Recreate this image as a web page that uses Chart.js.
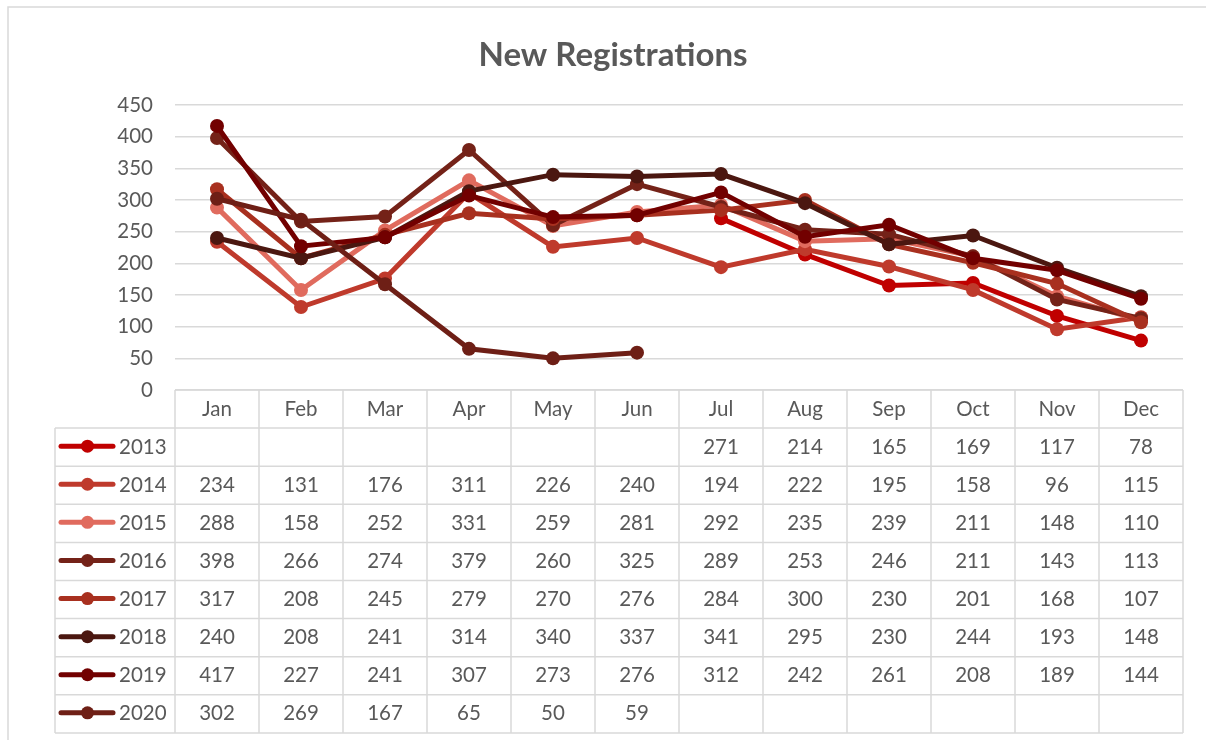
<!DOCTYPE html>
<html>
<head>
<meta charset="utf-8">
<script src="https://cdn.jsdelivr.net/npm/chart.js@4"></script>
<style>
html,body{margin:0;padding:0;background:#fff;}
#wrap{width:1206px;height:740px;position:relative;}
</style>
</head>
<body>
<div id="wrap"><canvas id="c"></canvas></div>
<script>
const months = ["Jan","Feb","Mar","Apr","May","Jun","Jul","Aug","Sep","Oct","Nov","Dec"];
const years = ["2013","2014","2015","2016","2017","2018","2019","2020"];
const s2013 = [null,null,null,null,null,null,271,214,165,169,117,78];
const s2014 = [234,131,176,311,226,240,194,222,195,158,96,115];
const s2015 = [288,158,252,331,259,281,292,235,239,211,148,110];
const s2016 = [398,266,274,379,260,325,289,253,246,211,143,113];
const s2017 = [317,208,245,279,270,276,284,300,230,201,168,107];
const s2018 = [240,208,241,314,340,337,341,295,230,244,193,148];
const s2019 = [417,227,241,307,273,276,312,242,261,208,189,144];
const s2020 = [302,269,167,65,50,59,null,null,null,null,null,null];
const yTicks = [0,50,100,150,200,250,300,350,400,450];
const colors = ["#C00000","#BF3A2C","#E06B5E","#742218","#A8301F","#4B1710","#720000","#6E1F16"];
const series = [s2013,s2014,s2015,s2016,s2017,s2018,s2019,s2020];

const FONT = "Lato, 'Open Sans', sans-serif";
const TXT = "#595959";
const LINE = "#D9D9D9";

const tablePlugin = {
  id: "dataTable",
  afterDraw(chart) {
    const ctx = chart.ctx;
    const xs = chart.scales.x;
    const area = chart.chartArea;
    const left = area.left, right = area.right;
    const colW = (right - left) / months.length;
    const top = area.bottom;
    const rowH = 38.1;
    const labelLeft = 55;
    const nRows = years.length;
    const bottom = top + rowH * (nRows + 1);
    ctx.save();
    ctx.strokeStyle = LINE;
    ctx.lineWidth = 1.5;
    ctx.strokeRect(8, 7, 1230, 760);
    ctx.fillStyle = TXT;
    ctx.font = "bold 33px " + FONT;
    ctx.textAlign = "center";
    ctx.textBaseline = "middle";
    ctx.fillText("New Registrations", 613, 55);

    ctx.strokeStyle = LINE;
    ctx.lineWidth = 1.5;
    ctx.beginPath();
    ctx.moveTo(left, top); ctx.lineTo(right, top);
    for (let r = 1; r <= nRows + 1; r++) {
      const y = top + r * rowH;
      ctx.moveTo(labelLeft, y); ctx.lineTo(right, y);
    }
    for (let i = 0; i <= months.length; i++) {
      const x = left + i * colW;
      ctx.moveTo(x, top); ctx.lineTo(x, bottom);
    }
    ctx.moveTo(labelLeft, top + rowH); ctx.lineTo(labelLeft, bottom);
    ctx.stroke();

    ctx.fillStyle = TXT;
    ctx.font = "20.5px " + FONT;
    ctx.textAlign = "center";
    ctx.textBaseline = "middle";
    months.forEach((m, i) => {
      ctx.fillText(m, xs.getPixelForValue(i), top + rowH / 2);
    });
    series.forEach((s, r) => {
      const yc = top + (r + 1) * rowH + rowH / 2;
      s.forEach((v, i) => {
        if (v !== null) ctx.fillText(String(v), xs.getPixelForValue(i), yc);
      });
      ctx.strokeStyle = colors[r];
      ctx.lineWidth = 5;
      ctx.lineCap = "round";
      ctx.beginPath();
      ctx.moveTo(61, yc - 1); ctx.lineTo(113, yc - 1);
      ctx.stroke();
      ctx.fillStyle = colors[r];
      ctx.beginPath();
      ctx.arc(87.5, yc - 1, 6.5, 0, Math.PI * 2);
      ctx.fill();
      ctx.fillStyle = TXT;
      ctx.textAlign = "left";
      ctx.fillText(years[r], 119, yc);
      ctx.textAlign = "center";
    });
    ctx.restore();
  }
};

const datasets = series.map((s, i) => ({
  label: years[i],
  data: s,
  borderColor: colors[i],
  backgroundColor: colors[i],
  borderWidth: 5,
  pointRadius: 7,
  pointHoverRadius: 7,
  pointBorderWidth: 0,
  pointBackgroundColor: colors[i],
  tension: 0,
  spanGaps: false,
  order: series.length - i
}));

new Chart(document.getElementById("c"), {
  type: "line",
  data: { labels: months, datasets },
  options: {
    responsive: true,
    maintainAspectRatio: false,
    animation: false,
    layout: { padding: { left: 0, right: 23, top: 105, bottom: 350 } },
    plugins: { legend: { display: false }, title: { display: false }, tooltip: { enabled: false } },
    scales: {
      x: {
        offset: true,
        grid: { display: false },
        border: { display: false },
        ticks: { display: false },
        afterFit(s) { s.height = 0; }
      },
      y: {
        min: 0, max: 450,
        afterFit(s) { s.width = 175; },
        afterBuildTicks(s) { s.ticks = yTicks.map(v => ({ value: v })); },
        grid: { color: LINE, lineWidth: 1.5, drawTicks: false },
        border: { display: false },
        ticks: { color: TXT, font: { family: FONT, size: 20.5 }, padding: 22 }
      }
    }
  },
  plugins: [tablePlugin]
});
</script>
</body>
</html>
